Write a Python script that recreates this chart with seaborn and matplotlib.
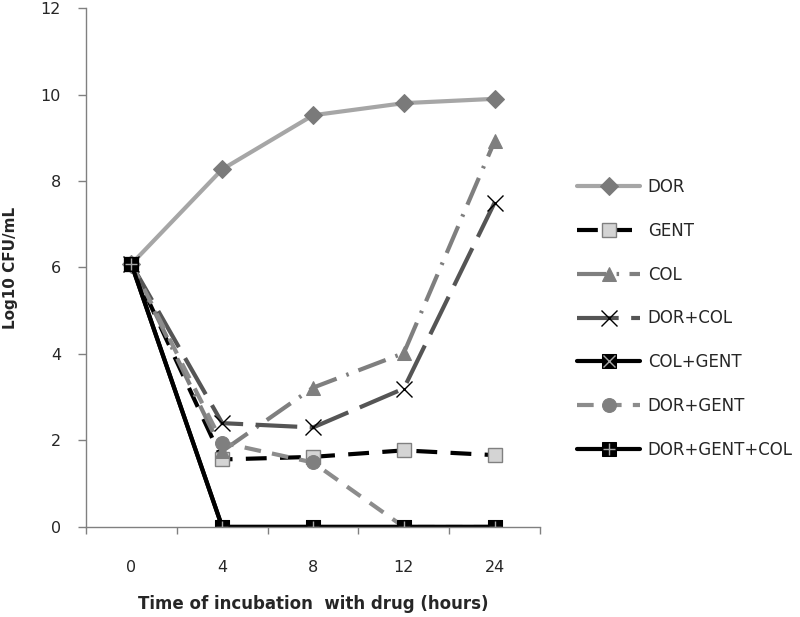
import numpy as np
import pandas as pd
import matplotlib.pyplot as plt
import seaborn as sns
from matplotlib.legend_handler import HandlerTuple

hours = ['0', '4', '8', '12', '24']
dor = [6.08, 8.27, 9.52, 9.8, 9.9]
gent = [6.08, 1.56, 1.62, 1.77, 1.66]
col = [6.08, 1.75, 3.22, 4.02, 8.92]
dor_col = [6.08, 2.4, 2.3, 3.2, 7.5]
col_gent = [6.08, 0, 0, 0, 0]
dor_gent = [6.08, 1.95, 1.49, 0, 0]
dor_gent_col = [6.08, 0, 0, 0, 0]

series = ['DOR', 'GENT', 'COL', 'DOR+COL', 'COL+GENT', 'DOR+GENT', 'DOR+GENT+COL']
values = [dor, gent, col, dor_col, col_gent, dor_gent, dor_gent_col]

# look of each line (colour, dash pattern, marker)
styles = {
    'DOR': dict(color='#a6a6a6', linestyle='-', marker='D', markersize=9,
                markerfacecolor='#7a7a7a', markeredgecolor='#7a7a7a'),
    'GENT': dict(color='black', linestyle=(0, (5, 3.2)), marker='s', markersize=10,
                 markerfacecolor='#d4d4d4', markeredgecolor='#808080', markeredgewidth=1),
    'COL': dict(color='#7f7f7f', linestyle=(0, (7, 2.5, 0.6, 2.5)), marker='^', markersize=10,
                markerfacecolor='#7f7f7f', markeredgecolor='#7f7f7f'),
    'DOR+COL': dict(color='#555555', linestyle=(0, (10, 3)), marker='x', markersize=11,
                    markerfacecolor='black', markeredgecolor='black', markeredgewidth=1),
    'COL+GENT': dict(color='black', linestyle='-', marker='s', markersize=10,
                     markerfacecolor='black', markeredgecolor='black'),
    'DOR+GENT': dict(color='#8c8c8c', linestyle=(0, (4, 2.7)), marker='o', markersize=10,
                     markerfacecolor='#7f7f7f', markeredgecolor='#7f7f7f'),
    'DOR+GENT+COL': dict(color='black', linestyle='-', marker='s', markersize=10,
                         markerfacecolor='black', markeredgecolor='black'),
}
overlay = {'COL+GENT': 'x', 'DOR+GENT+COL': '+'}

sns.set_style('white')
plt.rcParams['font.family'] = ['DejaVu Sans']

fig, ax = plt.subplots(figsize=(8, 6.17), dpi=100)
fig.subplots_adjust(left=0.1075, right=0.675, bottom=0.146, top=0.987)

handles = []
for name, vals in zip(series, values):
    df = pd.DataFrame({'hours': hours, 'cfu': vals})
    sns.lineplot(data=df, x='hours', y='cfu', ax=ax, sort=False, linewidth=3,
                 label=name, **styles[name])
    h = ax.get_lines()[-1]
    if name in overlay:
        sns.lineplot(data=df, x='hours', y='cfu', ax=ax, sort=False, linestyle='none',
                     marker=overlay[name], markersize=8, markeredgewidth=1,
                     markeredgecolor='#a8a8a8', color='#a8a8a8', legend=False)
        h = (h, ax.get_lines()[-1])
    handles.append(h)

ax.set_ylim(0, 12)
ax.set_yticks(np.arange(0, 13, 2))
ax.set_xlim(-0.5, 4.5)
ax.set_xticks(np.arange(-0.5, 5, 1), minor=True)
ax.tick_params(axis='x', which='major', length=0, pad=24, labelsize=11.5)
ax.tick_params(axis='x', which='minor', length=5, width=1, color='#808080', direction='out', bottom=True)
ax.tick_params(axis='y', length=6, width=1, color='#808080', direction='out', left=True, pad=12,
               labelsize=11.5)

for s in ['top', 'right']:
    ax.spines[s].set_visible(False)
for s in ['left', 'bottom']:
    ax.spines[s].set_color('#808080')
    ax.spines[s].set_linewidth(1)

ax.set_xlabel('Time of incubation  with drug (hours)', fontsize=12, fontweight='bold', labelpad=14)
ax.set_ylabel('Log10 CFU/mL', fontsize=11, fontweight='bold', labelpad=16)

ax.legend(handles, series, handler_map={tuple: HandlerTuple(ndivide=1)},
          loc='upper left', bbox_to_anchor=(577 / 800, 1 - 178 / 617),
          bbox_transform=fig.transFigure, frameon=False, fontsize=12,
          handlelength=3.8, handletextpad=0.45, labelspacing=1.55,
          borderpad=0, borderaxespad=0)

fig.savefig('out.png', dpi=100)
